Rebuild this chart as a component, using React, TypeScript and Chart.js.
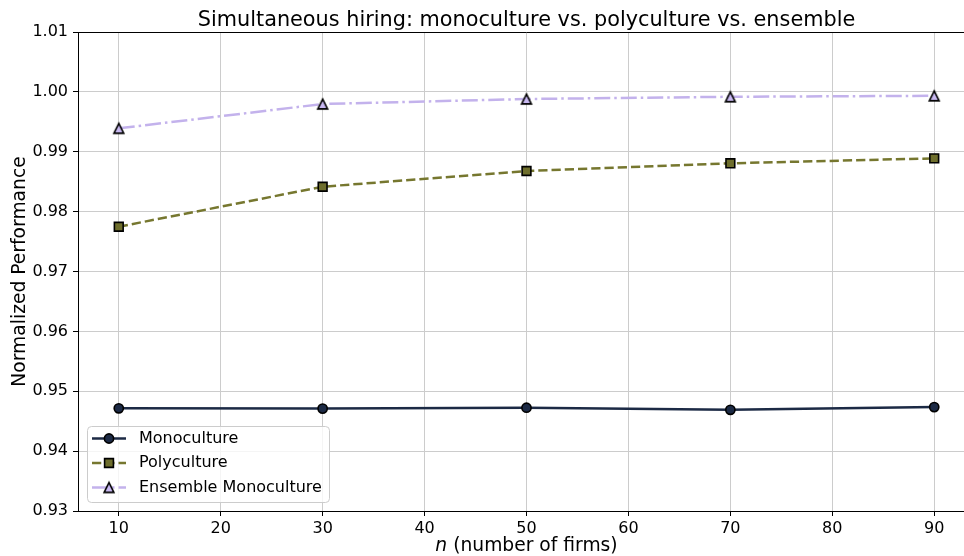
import { useEffect, useRef } from 'react';
import { Chart, registerables } from 'chart.js';

Chart.register(...registerables);

const FONT = '"DejaVu Sans", sans-serif';

const xValues = [10, 30, 50, 70, 90];
const xTicks = [10, 20, 30, 40, 50, 60, 70, 80, 90];
const yTicks = [0.93, 0.94, 0.95, 0.96, 0.97, 0.98, 0.99, 1.0, 1.01];

const monoculture = [0.94715, 0.9471, 0.94725, 0.9469, 0.94735];
const polyculture = [0.97748, 0.98416, 0.98678, 0.98807, 0.9889];
const ensemble = [0.99391, 0.99797, 0.99881, 0.99918, 0.99934];

const seriesLabels = ['Monoculture', 'Polyculture', 'Ensemble Monoculture'];

const NAVY = '#1c2a45';
const OLIVE = '#76772f';
const OLIVE_FILL = '#6e6e2c';
const LAVENDER = '#c3b2ec';
const LAVENDER_FILL = '#c9b9f2';

const titleText = 'Simultaneous hiring: monoculture vs. polyculture vs. ensemble';
const yTitle = 'Normalized Performance';

function makeTriangle(fill: string): HTMLCanvasElement {
  const c = document.createElement('canvas');
  c.width = 16;
  c.height = 16;
  const g = c.getContext('2d')!;
  const cx = 8, cy = 8, h = 4.9;
  g.beginPath();
  g.moveTo(cx, cy - h);
  g.lineTo(cx - h, cy + h);
  g.lineTo(cx + h, cy + h);
  g.closePath();
  g.fillStyle = fill;
  g.fill();
  g.lineWidth = 1.6;
  g.strokeStyle = '#000';
  g.lineJoin = 'miter';
  g.stroke();
  return c;
}

export default function App() {
  const ref = useRef<HTMLCanvasElement | null>(null);

  useEffect(() => {
    const canvas = ref.current!;
    const tri = makeTriangle(LAVENDER_FILL);

    const decor = {
      id: 'decor',
      afterDraw(chart: any) {
        const ctx: CanvasRenderingContext2D = chart.ctx;
        const { left, top, right, bottom } = chart.chartArea;
        ctx.save();
        // top spine
        ctx.strokeStyle = '#000';
        ctx.lineWidth = 1;
        ctx.setLineDash([]);
        ctx.beginPath();
        ctx.moveTo(left, Math.round(top) + 0.5);
        ctx.lineTo(right, Math.round(top) + 0.5);
        ctx.stroke();

        const cxMid = (left + right) / 2;
        // title
        ctx.fillStyle = '#000';
        ctx.font = `20.8px ${FONT}`;
        ctx.textAlign = 'center';
        ctx.textBaseline = 'alphabetic';
        ctx.fillText(titleText, cxMid, 26);

        // x label
        ctx.font = `italic 18.7px ${FONT}`;
        const w1 = ctx.measureText('n').width;
        ctx.font = `18.7px ${FONT}`;
        const rest = ' (number of firms)';
        const w2 = ctx.measureText(rest).width;
        const sx = cxMid - (w1 + w2) / 2;
        ctx.textAlign = 'left';
        ctx.font = `italic 18.7px ${FONT}`;
        ctx.fillText('n', sx, 551);
        ctx.font = `18.7px ${FONT}`;
        ctx.fillText(rest, sx + w1, 551);

        // y label
        ctx.save();
        ctx.translate(25, (top + bottom) / 2);
        ctx.rotate(-Math.PI / 2);
        ctx.textAlign = 'center';
        ctx.fillText(yTitle, 0, 0);
        ctx.restore();

        // legend
        const bx = 87.5, by = 426.5, bw = 242, bh = 76, r = 4;
        ctx.beginPath();
        ctx.moveTo(bx + r, by);
        ctx.lineTo(bx + bw - r, by);
        ctx.arcTo(bx + bw, by, bx + bw, by + r, r);
        ctx.lineTo(bx + bw, by + bh - r);
        ctx.arcTo(bx + bw, by + bh, bx + bw - r, by + bh, r);
        ctx.lineTo(bx + r, by + bh);
        ctx.arcTo(bx, by + bh, bx, by + bh - r, r);
        ctx.lineTo(bx, by + r);
        ctx.arcTo(bx, by, bx + r, by, r);
        ctx.closePath();
        ctx.fillStyle = 'rgba(255,255,255,0.8)';
        ctx.fill();
        ctx.strokeStyle = '#cccccc';
        ctx.lineWidth = 1;
        ctx.stroke();

        const rows = [438.5, 463, 487.5];
        const colors = [NAVY, OLIVE, LAVENDER];
        const dashes = [[], [9.25, 4], [16, 4, 2.5, 4]];
        for (let i = 0; i < 3; i++) {
          const y = rows[i];
          ctx.strokeStyle = colors[i];
          ctx.lineWidth = 2.5;
          ctx.setLineDash(dashes[i]);
          ctx.beginPath();
          ctx.moveTo(92, y);
          ctx.lineTo(126, y);
          ctx.stroke();
          ctx.setLineDash([]);
          ctx.lineWidth = 1.6;
          ctx.strokeStyle = '#000';
          if (i === 0) {
            ctx.beginPath();
            ctx.arc(109, y, 4.6, 0, Math.PI * 2);
            ctx.fillStyle = NAVY;
            ctx.fill();
            ctx.stroke();
          } else if (i === 1) {
            ctx.beginPath();
            ctx.rect(109 - 4.4, y - 4.4, 8.8, 8.8);
            ctx.fillStyle = OLIVE_FILL;
            ctx.fill();
            ctx.stroke();
          } else {
            ctx.drawImage(tri, 109 - 8, y - 8);
          }
          ctx.fillStyle = '#000';
          ctx.font = `16px ${FONT}`;
          ctx.textAlign = 'left';
          ctx.textBaseline = 'middle';
          ctx.fillText(seriesLabels[i], 139, y);
        }
        ctx.restore();
      },
    };

    const toPts = (arr: number[]) => xValues.map((x, i) => ({ x, y: arr[i] }));

    const chart = new Chart(canvas, {
      type: 'scatter',
      data: {
        datasets: [
          {
            label: seriesLabels[0],
            data: toPts(monoculture),
            showLine: true,
            borderColor: NAVY,
            borderWidth: 2.5,
            pointStyle: 'circle',
            pointRadius: 4.6,
            pointBackgroundColor: NAVY,
            pointBorderColor: '#000',
            pointBorderWidth: 1.6,
            order: 3,
          },
          {
            label: seriesLabels[1],
            data: toPts(polyculture),
            showLine: true,
            borderColor: OLIVE,
            borderWidth: 2.5,
            borderDash: [9.25, 4],
            pointStyle: 'rect',
            pointRadius: 6.2,
            pointBackgroundColor: OLIVE_FILL,
            pointBorderColor: '#000',
            pointBorderWidth: 1.6,
            order: 2,
          },
          {
            label: seriesLabels[2],
            data: toPts(ensemble),
            showLine: true,
            borderColor: LAVENDER,
            borderWidth: 2.5,
            borderDash: [16, 4, 2.5, 4],
            pointStyle: tri as any,
            pointRadius: 5,
            order: 1,
          },
        ],
      },
      options: {
        animation: false,
        responsive: false,
        maintainAspectRatio: false,
        devicePixelRatio: 1,
        layout: { autoPadding: false, padding: { top: 32, right: 1, left: 0, bottom: 0 } },
        plugins: {
          legend: { display: false },
          tooltip: { enabled: false },
          title: { display: false },
        },
        scales: {
          x: {
            type: 'linear',
            min: 6,
            max: 94,
            afterBuildTicks: (s: any) => {
              s.ticks = xTicks.map((v) => ({ value: v }));
            },
            afterFit: (s: any) => {
              s.height = 45;
              s.paddingLeft = 0;
              s.paddingRight = 0;
            },
            ticks: {
              font: { family: FONT, size: 16 },
              color: '#000',
              padding: 3,
              maxRotation: 0,
              autoSkip: false,
              callback: (v: any) => String(v),
            },
            grid: { color: '#cccccc', lineWidth: 1, tickLength: 5, tickColor: '#000', drawTicks: true },
            border: { display: true, color: '#000', width: 1 },
          },
          y: {
            type: 'linear',
            min: 0.93,
            max: 1.01,
            afterBuildTicks: (s: any) => {
              s.ticks = yTicks.map((v) => ({ value: v }));
            },
            afterFit: (s: any) => {
              s.width = 78;
            },
            ticks: {
              font: { family: FONT, size: 16 },
              color: '#000',
              padding: 5,
              autoSkip: false,
              callback: (v: any) => Number(v).toFixed(2),
            },
            grid: { color: '#cccccc', lineWidth: 1, tickLength: 5, tickColor: '#000', drawTicks: true },
            border: { display: true, color: '#000', width: 1 },
          },
        },
      },
      plugins: [decor],
    } as any);

    return () => chart.destroy();
  }, []);

  return (
    <div style={{ position: 'absolute', left: 0, top: 0, width: 964, height: 556, overflow: 'hidden', background: '#fff' }}>
      <canvas ref={ref} width={976} height={556} style={{ display: 'block', width: 976, height: 556 }} />
    </div>
  );
}
